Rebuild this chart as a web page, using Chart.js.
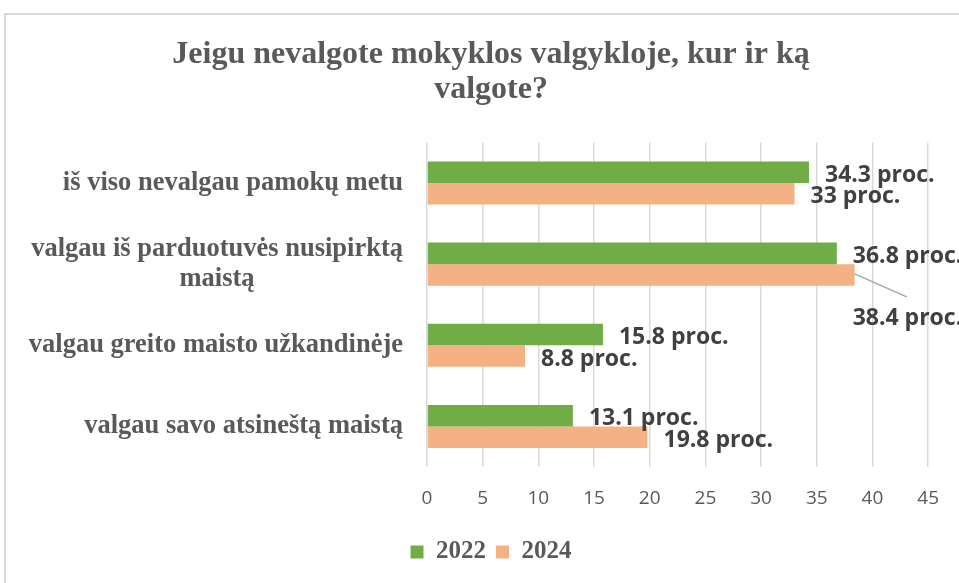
<!DOCTYPE html>
<html>
<head>
<meta charset="utf-8">
<script src="https://cdn.jsdelivr.net/npm/chart.js@4.4.1/dist/chart.umd.min.js"></script>
<style>
  html, body { margin: 0; padding: 0; background: #fff; overflow: hidden; }
  #wrap { position: relative; width: 959px; height: 583px; }
</style>
</head>
<body>
<div id="wrap"><canvas id="myChart" width="959" height="583"></canvas></div>
<script>
// data
var categories = [
  ["iš viso nevalgau pamokų metu"],
  ["valgau iš parduotuvės nusipirktą", "maistą"],
  ["valgau greito maisto užkandinėje"],
  ["valgau savo atsineštą maistą"]
];
var seriesNames = ["2022", "2024"];
var values2022 = [34.3, 36.8, 15.8, 13.1];
var values2024 = [33, 38.4, 8.8, 19.8];
var xTicks = [0, 5, 10, 15, 20, 25, 30, 35, 40, 45];

var green = "#70ad47";
var orange = "#f4b183";
var gray = "#595959";

// frame + white background
var framePlugin = {
  id: "frame",
  beforeDraw: function (chart) {
    var ctx = chart.ctx;
    ctx.save();
    ctx.fillStyle = "#fff";
    ctx.fillRect(0, 0, chart.width, chart.height);
    ctx.strokeStyle = "#d9d9d9";
    ctx.lineWidth = 2;
    ctx.beginPath();
    ctx.moveTo(5, chart.height);
    ctx.lineTo(5, 14);
    ctx.lineTo(chart.width, 14);
    ctx.stroke();
    ctx.restore();
  }
};

// category labels, right aligned, wrapped lines centered like Excel does
var catLabelPlugin = {
  id: "catLabels",
  afterDraw: function (chart) {
    var ctx = chart.ctx;
    var y = chart.scales.y;
    var right = chart.chartArea.left - 24;
    var lh = 30;
    ctx.save();
    ctx.font = "bold 26.5px 'Liberation Serif'";
    ctx.fillStyle = gray;
    ctx.textBaseline = "middle";
    ctx.textAlign = "center";
    categories.forEach(function (lines, i) {
      var cy = y.getPixelForValue(i);
      var w = 0;
      lines.forEach(function (l) { w = Math.max(w, ctx.measureText(l).width); });
      var cx = right - w / 2;
      var y0 = cy - (lines.length - 1) * lh / 2;
      lines.forEach(function (l, k) {
        ctx.fillText(l, cx, y0 + k * lh);
      });
    });
    ctx.restore();
  }
};

// value labels "xx proc."
var valueLabelPlugin = {
  id: "valueLabels",
  afterDatasetsDraw: function (chart) {
    var ctx = chart.ctx;
    ctx.save();
    ctx.font = "bold 23px 'Open Sans'";
    ctx.fillStyle = "#404040";
    ctx.textBaseline = "middle";
    ctx.textAlign = "left";
    chart.data.datasets.forEach(function (ds, di) {
      var meta = chart.getDatasetMeta(di);
      meta.data.forEach(function (bar, i) {
        var txt = ds.data[i] + " proc.";
        if (di === 1 && i === 1) {
          // this one was dragged below in the original, with a leader line
          ctx.strokeStyle = "#a6a6a6";
          ctx.lineWidth = 1.5;
          ctx.beginPath();
          ctx.moveTo(bar.x, bar.y - 1);
          ctx.lineTo(bar.x + 52, bar.y + 22);
          ctx.stroke();
          ctx.fillText(txt, bar.x - 2, bar.y + 44);
        } else {
          ctx.fillText(txt, bar.x + 16, bar.y + 3);
        }
      });
    });
    ctx.restore();
  }
};

var ctx = document.getElementById("myChart").getContext("2d");
var chart = new Chart(ctx, {
  type: "bar",
  data: {
    labels: categories,
    datasets: [
      { label: seriesNames[0], data: values2022, backgroundColor: green },
      { label: seriesNames[1], data: values2024, backgroundColor: orange }
    ]
  },
  options: {
    indexAxis: "y",
    responsive: false,
    animation: false,
    devicePixelRatio: 1,
    layout: { padding: { left: 52, right: 29, top: 0, bottom: 8.5 } },
    datasets: {
      bar: { categoryPercentage: 0.53, barPercentage: 1.0 }
    },
    scales: {
      x: {
        min: 0,
        max: 45,
        afterBuildTicks: function (s) {
          s.ticks = xTicks.map(function (v) { return { value: v }; });
        },
        afterFit: function (s) { s.height = 62.5; },
        grid: { color: "#d9d9d9", lineWidth: 1.5, drawTicks: false },
        border: { display: false },
        ticks: {
          padding: 20,
          color: gray,
          font: { family: "'Open Sans'", size: 19 }
        }
      },
      y: {
        afterFit: function (s) { s.width = 375; },
        grid: { display: false },
        border: { display: false },
        ticks: { display: false }
      }
    },
    plugins: {
      title: {
        display: true,
        text: ["Jeigu nevalgote mokyklos valgykloje, kur ir ką", "valgote?"],
        color: gray,
        font: { family: "'Liberation Serif'", size: 32, weight: "bold", lineHeight: 1.1 },
        padding: { top: 37, bottom: 35 }
      },
      legend: {
        position: "bottom",
        labels: {
          color: gray,
          boxWidth: 13,
          boxHeight: 13,
          padding: 10,
          font: { family: "'Liberation Serif'", size: 25, weight: "bold" }
        }
      },
      tooltip: { enabled: false }
    }
  },
  plugins: [framePlugin, catLabelPlugin, valueLabelPlugin]
});
</script>
</body>
</html>
